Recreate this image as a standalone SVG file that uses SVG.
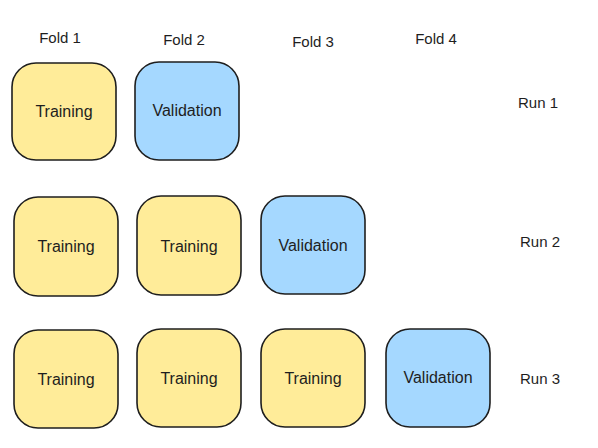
<svg xmlns="http://www.w3.org/2000/svg" width="598" height="448" viewBox="0 0 598 448">
<style>
.box{stroke:#1e1e1e;stroke-width:1.6}
.train{fill:#ffec99}
.val{fill:#a5d8ff}
text{font-family:"Liberation Sans",sans-serif;font-size:15px;fill:#1e1e1e;text-anchor:middle;dominant-baseline:central}
.lbl{font-size:16px}
</style>
<rect width="598" height="448" fill="#ffffff"/>
<g id="headers">
<text x="60" y="37">Fold 1</text>
<text x="184" y="39">Fold 2</text>
<text x="313" y="41">Fold 3</text>
<text x="436" y="38">Fold 4</text>
</g>
<g id="runs">
<text x="538" y="102">Run 1</text>
<text x="540" y="241">Run 2</text>
<text x="540" y="378">Run 3</text>
</g>
<g id="r1f1"><rect class="box train" x="12" y="63" width="104" height="97" rx="24"/><text class="lbl" x="64" y="111">Training</text></g>
<g id="r1f2"><rect class="box val" x="135" y="62" width="104" height="98" rx="24"/><text class="lbl" x="187" y="110">Validation</text></g>
<g id="r2f1"><rect class="box train" x="14" y="197" width="104" height="99" rx="24"/><text class="lbl" x="66" y="246">Training</text></g>
<g id="r2f2"><rect class="box train" x="137" y="196" width="104" height="99" rx="24"/><text class="lbl" x="189" y="246">Training</text></g>
<g id="r2f3"><rect class="box val" x="261" y="196" width="104" height="98" rx="24"/><text class="lbl" x="313" y="245">Validation</text></g>
<g id="r3f1"><rect class="box train" x="14" y="330" width="104" height="98" rx="24"/><text class="lbl" x="66" y="379">Training</text></g>
<g id="r3f2"><rect class="box train" x="137" y="329" width="104" height="98" rx="24"/><text class="lbl" x="189" y="378">Training</text></g>
<g id="r3f3"><rect class="box train" x="261" y="329" width="104" height="98" rx="24"/><text class="lbl" x="313" y="378">Training</text></g>
<g id="r3f4"><rect class="box val" x="386" y="329" width="104" height="98" rx="24"/><text class="lbl" x="438" y="377">Validation</text></g>
<g id="connectors"/>
</svg>
